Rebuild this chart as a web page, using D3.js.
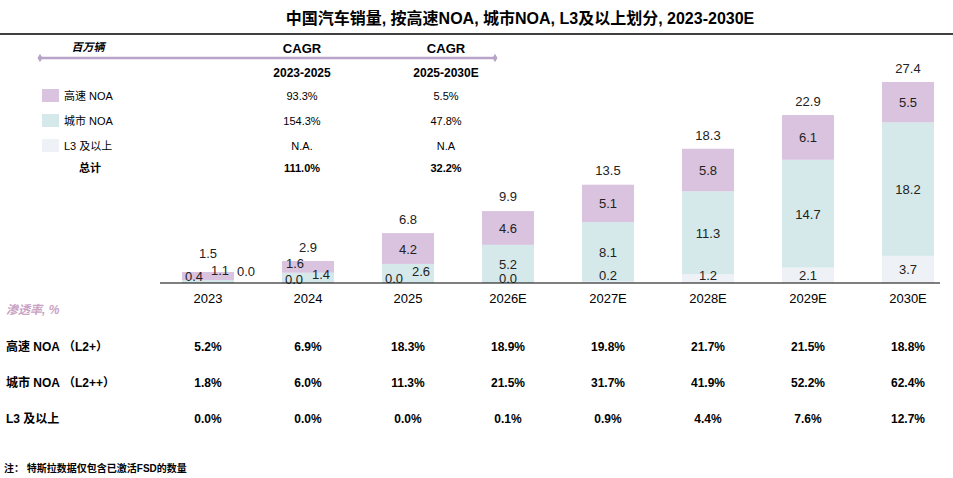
<!DOCTYPE html>
<html>
<head>
<meta charset="utf-8">
<script src="https://d3js.org/d3.v7.min.js"></script>
<style>
body{margin:0;background:#fff;font-family:Arial,"Liberation Sans","Noto Sans CJK SC",sans-serif}
</style>
</head>
<body>
<svg width="953" height="478"></svg>
<script>
const svg = d3.select("svg")
const data = [
  { year: "2023", l3: 0.0, city: 0.4, hw: 1.1, total: 1.5 },
  { year: "2024", l3: 0.0, city: 1.4, hw: 1.6, total: 2.9 },
  { year: "2025", l3: 0.0, city: 2.6, hw: 4.2, total: 6.8 },
  { year: "2026E", l3: 0.0, city: 5.2, hw: 4.6, total: 9.9 },
  { year: "2027E", l3: 0.2, city: 8.1, hw: 5.1, total: 13.5 },
  { year: "2028E", l3: 1.2, city: 11.3, hw: 5.8, total: 18.3 },
  { year: "2029E", l3: 2.1, city: 14.7, hw: 6.1, total: 22.9 },
  { year: "2030E", l3: 3.7, city: 18.2, hw: 5.5, total: 27.4 }
]
const pen = [
  { name: "高速 NOA （L2+）", vals: ["5.2%", "6.9%", "18.3%", "18.9%", "19.8%", "21.7%", "21.5%", "18.8%"] },
  { name: "城市 NOA （L2++）", vals: ["1.8%", "6.0%", "11.3%", "21.5%", "31.7%", "41.9%", "52.2%", "62.4%"] },
  { name: "L3 及以上", vals: ["0.0%", "0.0%", "0.0%", "0.1%", "0.9%", "4.4%", "7.6%", "12.7%"] }
]
const colors = { l3: "#eef2f7", city: "#d5e9ea", hw: "#d9c3de" }
const keys = ["l3", "city", "hw"]
const baseY = 283

const x = d3.scaleBand().domain(data.map(d => d.year)).range([158, 958]).paddingInner(0.48).paddingOuter(0.24)
const y = d3.scaleLinear().domain([0, 27.4]).range([baseY, 82])

// title + top rule
svg.append("text").attr("x", 520).attr("y", 24).attr("text-anchor", "middle")
  .attr("font-size", 16).attr("font-weight", "bold").text("中国汽车销量, 按高速NOA, 城市NOA, L3及以上划分, 2023-2030E")
svg.append("line").attr("x1", 0).attr("x2", 953).attr("y1", 34).attr("y2", 34).attr("stroke", "#000").attr("stroke-width", 1.5)

// stacked bars
const stack = d3.stack().keys(keys)(data)
const g = svg.append("g")
stack.forEach(layer => {
  g.selectAll(null).data(layer).enter().append("rect")
    .attr("x", d => x(d.data.year))
    .attr("y", d => y(d[1]))
    .attr("width", x.bandwidth())
    .attr("height", d => y(d[0]) - y(d[1]))
    .attr("fill", colors[layer.key])
})
// small-value label nudges for the first years
const nudge = {
  "2023-l3": [38, -4], "2023-city": [-14, 1], "2023-hw": [12, -2],
  "2024-l3": [-14, 4], "2024-city": [13, -4], "2024-hw": [-13, -4],
  "2025-l3": [-14, 3], "2025-city": [13, -2],
  "2026E-l3": [0, 3]
}
stack.forEach(layer => {
  g.selectAll(null).data(layer).enter().append("text")
    .attr("x", d => x(d.data.year) + x.bandwidth() / 2 + (nudge[d.data.year + "-" + layer.key] || [0, 0])[0])
    .attr("y", d => {
      const n = nudge[d.data.year + "-" + layer.key] || [0, 0]
      const h = y(d[0]) - y(d[1])
      return (h < 10 ? y(d[0]) - 8 : (y(d[0]) + y(d[1])) / 2) + 5 + n[1]
    })
    .attr("text-anchor", "middle").attr("font-size", 13).attr("fill", "#222")
    .text(d => d.data[layer.key].toFixed(1))
})
g.selectAll(".tot").data(data).enter().append("text")
  .attr("x", d => x(d.year) + x.bandwidth() / 2)
  .attr("y", d => y(Math.max(d.total, d.l3 + d.city + d.hw)) - 9 - (d.year == "2023" ? 5 : 0))
  .attr("text-anchor", "middle").attr("font-size", 13).attr("fill", "#222")
  .text(d => d.total.toFixed(1))

// baseline + year labels
svg.append("line").attr("x1", 160).attr("x2", 940).attr("y1", baseY).attr("y2", baseY).attr("stroke", "#000").attr("stroke-width", 1.2)
svg.selectAll(".yr").data(data).enter().append("text")
  .attr("x", d => x(d.year) + x.bandwidth() / 2).attr("y", 303)
  .attr("text-anchor", "middle").attr("font-size", 13).text(d => d.year)

// legend / CAGR table
svg.append("line").attr("x1", 40).attr("x2", 495).attr("y1", 58).attr("y2", 58).attr("stroke", "#b8a4c9").attr("stroke-width", 2.5)
;[40, 495].forEach(px => svg.append("path").attr("d", d3.symbol(d3.symbolDiamond, 22)()).attr("transform", `translate(${px},58)`).attr("fill", "#b8a4c9"))
svg.append("text").attr("x", 88).attr("y", 51).attr("text-anchor", "middle").attr("font-size", 11).attr("font-weight", "bold").attr("font-style", "italic").text("百万辆")
const c1 = 302, c2 = 446
;[c1, c2].forEach(cx => svg.append("text").attr("x", cx).attr("y", 53).attr("text-anchor", "middle").attr("font-size", 13).attr("font-weight", "bold").text("CAGR"))
svg.append("text").attr("x", c1).attr("y", 77).attr("text-anchor", "middle").attr("font-size", 12).attr("font-weight", "bold").text("2023-2025")
svg.append("text").attr("x", c2).attr("y", 77).attr("text-anchor", "middle").attr("font-size", 12).attr("font-weight", "bold").text("2025-2030E")
const leg = [
  { k: "hw", name: "高速 NOA", a: "93.3%", b: "5.5%" },
  { k: "city", name: "城市 NOA", a: "154.3%", b: "47.8%" },
  { k: "l3", name: "L3 及以上", a: "N.A.", b: "N.A" }
]
leg.forEach((l, i) => {
  const ly = 96 + i * 25
  svg.append("rect").attr("x", 42).attr("y", ly - 7).attr("width", 17).attr("height", 13).attr("fill", colors[l.k])
  svg.append("text").attr("x", 64).attr("y", ly + 4).attr("font-size", 11).text(l.name)
  svg.append("text").attr("x", c1).attr("y", ly + 4).attr("text-anchor", "middle").attr("font-size", 11).text(l.a)
  svg.append("text").attr("x", c2).attr("y", ly + 4).attr("text-anchor", "middle").attr("font-size", 11).text(l.b)
})
svg.append("text").attr("x", 90).attr("y", 172).attr("text-anchor", "middle").attr("font-size", 11).attr("font-weight", "bold").text("总计")
svg.append("text").attr("x", c1).attr("y", 172).attr("text-anchor", "middle").attr("font-size", 11).attr("font-weight", "bold").text("111.0%")
svg.append("text").attr("x", c2).attr("y", 172).attr("text-anchor", "middle").attr("font-size", 11).attr("font-weight", "bold").text("32.2%")

// penetration table
svg.append("text").attr("x", 6).attr("y", 314).attr("font-size", 12).attr("font-style", "italic").attr("font-weight", "bold").attr("fill", "#c9a2c4").text("渗透率, %")
pen.forEach((p, i) => {
  const ry = 351 + i * 36
  svg.append("text").attr("x", 6).attr("y", ry).attr("font-size", 12).attr("font-weight", "bold").text(p.name)
  svg.selectAll(null).data(p.vals).enter().append("text")
    .attr("x", (d, j) => x(data[j].year) + x.bandwidth() / 2).attr("y", ry)
    .attr("text-anchor", "middle").attr("font-size", 12).attr("font-weight", "bold").text(d => d)
})
svg.append("text").attr("x", 4).attr("y", 472).attr("font-size", 10).attr("font-weight", "bold").text("注： 特斯拉数据仅包含已激活FSD的数量")
</script>
</body>
</html>
